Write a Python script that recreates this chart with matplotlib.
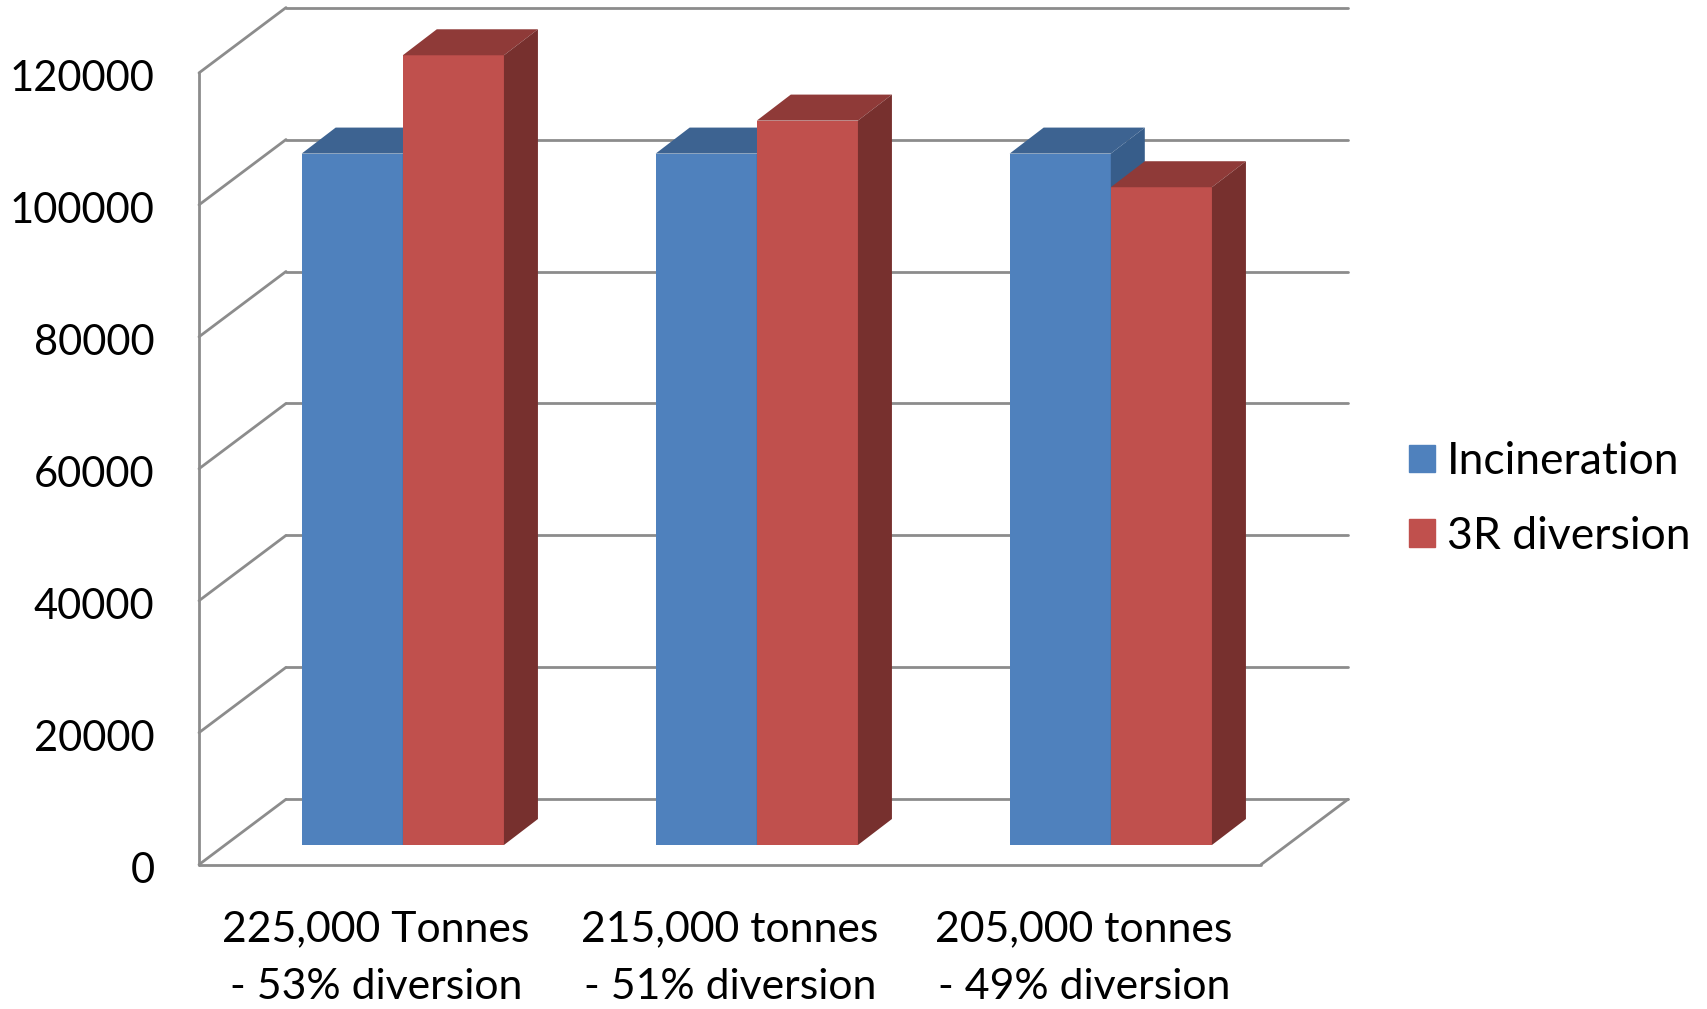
import matplotlib
matplotlib.use('Agg')
import matplotlib.pyplot as plt
import numpy as np
from matplotlib.patches import Polygon, Patch
from matplotlib.transforms import Affine2D, IdentityTransform

categories = ['225,000 Tonnes\n- 53% diversion', '215,000 tonnes\n- 51% diversion', '205,000 tonnes\n- 49% diversion']
incineration = [104800, 104800, 104800]
diversion = [119700, 109800, 99700]
y_ticks = [0, 20000, 40000, 60000, 80000, 100000, 120000]
series_names = ['Incineration', '3R diversion']

BLUE = ['#4F81BD', '#3D6391', '#375D8A']
RED = ['#C0504D', '#8F3A38', '#77302E']
GRID = '#8C8C8C'
W, H = 1707, 1009
BAR_W = 0.2857

# depth of the fake 3d box, in pixels
BAR_SHIFT = (26.8, 19.6)
BACK_SHIFT = (87, 65.3)
BAR_DEPTH = (34, 26)

plt.rcParams['font.family'] = ['Lato', 'DejaVu Sans']
fig = plt.figure(figsize=(W / 100, H / 100), dpi=100)
ax = fig.add_axes([199 / W, 1 - 864.6 / H, 1062 / W, 791.7 / H])
ax.set_xlim(-0.5, 2.5)
ax.set_ylim(0, 120000)
for s in ax.spines.values():
    s.set_visible(False)
ax.patch.set_visible(False)
ax.set_yticks(y_ticks)
ax.set_xticks(range(len(categories)))
ax.set_xticklabels(categories, linespacing=1.62, fontsize=30.8)
ax.tick_params(axis='y', length=0, labelsize=30, colors='black', pad=32)
ax.tick_params(axis='x', length=0, colors='black', pad=33)
# the labels sit a little low in the original
for lbl in ax.get_yticklabels():
    lbl.set_transform(lbl.get_transform() + Affine2D().translate(0, -2.5))

pixel = IdentityTransform()


def px(x, y, shift=(0, 0)):
    p = ax.transData.transform((x, y))
    return (p[0] + shift[0], p[1] + shift[1])


def line(a, b, lw=2.0):
    ax.plot([a[0], b[0]], [a[1], b[1]], transform=pixel, color=GRID, lw=lw,
            clip_on=False, zorder=1, solid_capstyle='round')


# walls and gridlines
x0, x1 = ax.get_xlim()
for v in y_ticks:
    line(px(x0, v), px(x0, v, BACK_SHIFT))
    line(px(x0, v, BACK_SHIFT), px(x1, v, BACK_SHIFT))
line(px(x0, 0), px(x0, y_ticks[-1]))
line(px(x0, 0), px(x1, 0))
line(px(x1, 0), px(x1, 0, BACK_SHIFT))


def bar3d(x, value, colors, order):
    tr = ax.transData + Affine2D().translate(*BAR_SHIFT)
    ax.bar(x, value, BAR_W, color=colors[0], transform=tr, clip_on=False, zorder=order + 2)
    dd = (BAR_SHIFT[0] + BAR_DEPTH[0], BAR_SHIFT[1] + BAR_DEPTH[1])
    left, right = x - BAR_W / 2, x + BAR_W / 2
    top = [px(left, value, BAR_SHIFT), px(right, value, BAR_SHIFT), px(right, value, dd), px(left, value, dd)]
    side = [px(right, 0, BAR_SHIFT), px(right, value, BAR_SHIFT), px(right, value, dd), px(right, 0, dd)]
    ax.add_patch(Polygon(top, closed=True, color=colors[1], lw=0, transform=pixel, clip_on=False, zorder=order + 2))
    ax.add_patch(Polygon(side, closed=True, color=colors[2], lw=0, transform=pixel, clip_on=False, zorder=order + 2))


for i in range(len(categories)):
    bar3d(i - BAR_W / 2, incineration[i], BLUE, i * 2)
    bar3d(i + BAR_W / 2, diversion[i], RED, i * 2 + 1)

ax.set_xlim(x0, x1)
ax.set_ylim(0, 120000)

handles = [Patch(color=BLUE[0]), Patch(color=RED[0])]
fig.legend(handles, series_names, loc='center left', frameon=False, fontsize=32,
           bbox_to_anchor=(1409 / W, 1 - 499 / H), borderpad=0, borderaxespad=0,
           handlelength=0.58, handleheight=0.58, handletextpad=0.27, labelspacing=0.76)

fig.savefig('out.png', dpi=100)
